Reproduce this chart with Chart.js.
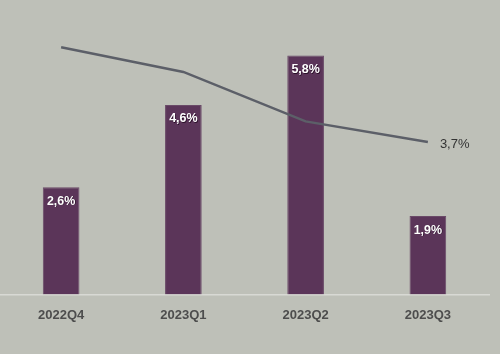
<!DOCTYPE html>
<html>
<head>
<meta charset="utf-8">
<script src="https://cdn.jsdelivr.net/npm/chart.js@4/dist/chart.umd.min.js"></script>
<style>
  html, body { margin: 0; padding: 0; background: #bec0b8; }
  #wrap { width: 500px; height: 354px; }
</style>
</head>
<body>
<div id="wrap"><canvas id="myChart"></canvas></div>
<script>
const quarters = ['2022Q4', '2023Q1', '2023Q2', '2023Q3']
const barValues = [2.6, 4.6, 5.8, 1.9]
const lineValues = [6.0, 5.4, 4.2, 3.7]

function fmt(v) {
    return v.toFixed(1).replace('.', ',') + '%'
}

// labels: inside bars (white) and only the last line point
const labelPlugin = {
    id: 'labels',
    afterDatasetsDraw(chart) {
        const ctx = chart.ctx
        ctx.save()
        ctx.textAlign = 'center'
        ctx.textBaseline = 'middle'

        const bars = chart.getDatasetMeta(0).data
        ctx.font = 'bold 12.5px "Liberation Sans", Arial, sans-serif'
        bars.forEach((bar, i) => {
            ctx.fillStyle = '#2a1028'
            ctx.fillText(fmt(barValues[i]), bar.x + 0.7, bar.y + 14.7)
            ctx.fillStyle = '#ffffff'
            ctx.fillText(fmt(barValues[i]), bar.x, bar.y + 14)
        })

        const pts = chart.getDatasetMeta(1).data
        const last = pts[pts.length - 1]
        ctx.font = '13px "Liberation Sans", Arial, sans-serif'
        ctx.fillStyle = '#333333'
        ctx.textAlign = 'left'
        ctx.fillText(fmt(lineValues[lineValues.length - 1]), last.x + 12, last.y + 2)
        ctx.restore()
    }
}

const ctx = document.getElementById('myChart')

new Chart(ctx, {
    type: 'bar',
    data: {
        labels: quarters,
        datasets: [{
            type: 'bar',
            data: barValues,
            backgroundColor: '#5b3559',
            borderColor: '#6a4a68',
            borderWidth: 1,
            barPercentage: 0.3,
            categoryPercentage: 1,
            order: 2
        }, {
            type: 'line',
            data: lineValues,
            borderColor: '#5c5f68',
            borderWidth: 2.5,
            pointRadius: 0,
            tension: 0,
            order: 1
        }]
    },
    options: {
        responsive: true,
        maintainAspectRatio: false,
        animation: false,
        layout: { padding: { top: 6, right: 11, left: 0, bottom: 26 } },
        plugins: {
            legend: { display: false },
            tooltip: { enabled: false }
        },
        scales: {
            x: {
                grid: { display: false },
                border: { color: '#d8d9d4', width: 1.5 },
                ticks: {
                    color: '#4d4d4d',
                    padding: 5,
                    font: { family: '"Liberation Sans", Arial, sans-serif', size: 13, weight: 'bold' }
                }
            },
            y: {
                display: false,
                min: 0,
                max: 7
            }
        }
    },
    plugins: [labelPlugin]
})
</script>
</body>
</html>
